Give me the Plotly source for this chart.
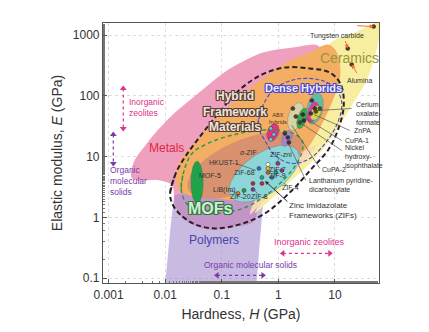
import numpy as np
import plotly.graph_objects as go

FONT = "Liberation Sans, Arial, sans-serif"

# ---------------- axis ticks ----------------
x_tickvals = [0.001, 0.01, 0.1, 1, 10]
x_ticktext = ["0.001", "0.01", "0.1", "1", "10"]
y_tickvals = [0.1, 1, 10, 100, 1000]
y_ticktext = ["0.1", "1", "10", "100", "1000"]

# ---------------- material regions (log10 H [GPa], log10 E [GPa]) ----------------
metals_logH = [-2.582, -2.564, -2.353, -2.088, -1.806, -1.506, -1.206, -0.907, -0.624, -0.325, -0.024, 0.257,
               0.469, 0.646, 0.734, 0.646, 0.205, -0.325, -0.677, -0.501, -0.413, -0.854, -1.259, -1.647,
               -1.824, -1.877, -2.088]
metals_logE = [0.641, 0.888, 1.184, 1.480, 1.743, 1.974, 2.204, 2.418, 2.566, 2.697, 2.763, 2.796,
               2.829, 2.845, 2.796, 2.582, 2.253, 1.760, 1.266, 0.609, -0.049, -0.164, -0.197, -0.049,
               0.197, 0.526, 0.609]

polymers_logH = [-2.01, -0.395, -0.325, -0.272, -0.219, -0.677, -1.383, -1.841, -1.912]
polymers_logE = [-1.2, -1.2, -0.378, 0.197, 0.576, 0.641, 0.477, 0.362, -0.214]

ceramics_logH = [1.810, 1.774, 1.686, 1.545, 1.298, 1.051, 0.769, 0.469, 0.205, -0.060, -0.289, -0.413,
                 -0.148, 0.205, 0.557, 0.769, 0.910, 1.351]
ceramics_logE = [3.207, 2.911, 2.582, 2.220, 1.842, 1.464, 1.102, 0.806, 0.592, 0.362, 0.164, 0.082,
                 0.444, 1.102, 1.924, 2.582, 2.862, 3.043]

hfm_logH = [-1.771, -1.771, -1.630, -1.506, -1.206, -0.907, -0.589, -0.325, -0.060, 0.205, 0.557, 0.875,
            1.016, 1.086, 1.086, 0.963, 0.804, 0.610, 0.381, 0.116, -0.148, -0.413, -0.765, -1.206, -1.559]
hfm_logE = [0.477, 0.855, 1.069, 1.184, 1.513, 1.793, 2.056, 2.253, 2.418, 2.582, 2.714, 2.845,
            2.747, 2.549, 2.253, 1.924, 1.595, 1.266, 0.970, 0.740, 0.477, 0.313, 0.280, 0.329, 0.362]

peach_logH = [0.663, 0.381, 0.116, -0.148, -0.395, -0.501, -0.413, -0.148, 0.205, 0.469]
peach_logE = [1.184, 0.839, 0.609, 0.378, 0.148, 0.049, 0.280, 0.510, 0.855, 1.102]

# dashed family outlines
hfm_outline_logH = [-1.912, -1.806, -1.630, -1.383, -1.118, -0.677, -0.289, 0.116, 0.557, 0.910, 1.104, 1.157,
                    1.051, 0.875, 0.593, 0.240, -0.236, -0.677, -1.118, -1.471, -1.735, -1.877]
hfm_outline_logE = [0.411, 0.740, 1.020, 1.332, 1.645, 2.105, 2.352, 2.467, 2.451, 2.385, 2.188, 1.842,
                    1.431, 1.102, 0.806, 0.444, 0.066, -0.115, -0.181, -0.115, 0.049, 0.230]

mof_outline_logH = [-1.718, -1.665, -1.524, -1.206, -0.765, -0.325, 0.028, 0.310, 0.434, 0.416, 0.293, 0.028,
                    -0.289, -0.677, -1.118, -1.471, -1.647]
mof_outline_logE = [0.477, 0.773, 1.053, 1.234, 1.365, 1.431, 1.431, 1.365, 1.234, 1.069, 0.839, 0.559,
                    0.313, 0.132, 0.066, 0.115, 0.263]

dense_outline_logH = [-0.360, -0.272, -0.060, 0.293, 0.698, 0.998, 1.122, 1.051, 0.840, 0.557, 0.240, -0.060, -0.236]
dense_outline_logE = [1.513, 1.842, 2.122, 2.270, 2.270, 2.138, 1.891, 1.563, 1.234, 0.970, 0.888, 1.020, 1.266]

# ellipse families: name, centre logH, centre logE, semi-axis a, semi-axis b, tilt (deg), colour
families = [
    ("MOF interior", -0.59, 0.86, 1.08, 0.42, 21, "#D8926F"),
    ("ZIFs", -0.25, 0.72, 0.70, 0.34, 32, "#8CD6D8"),
    ("MOF-5", -1.436, 0.576, 0.35, 0.11, 90, "#21A24A"),
    ("ABX", -0.095, 1.40, 0.15, 0.10, 65, "#E2347F"),
    ("Purple", 0.152, 1.30, 0.14, 0.08, 65, "#A487C8"),
    ("Tan", 0.31, 1.66, 0.24, 0.13, 70, "#D8D3A2"),
    ("Green", 0.42, 1.63, 0.18, 0.08, 70, "#36AA48"),
    ("Teal", 0.646, 1.79, 0.26, 0.14, 75, "#62BDA8"),
    ("Pink", 0.61, 1.73, 0.18, 0.09, 70, "#E03C9E"),
    ("Yellow", 0.66, 1.72, 0.13, 0.085, 60, "#DCD24A"),
]

# individual compounds (log10 H, log10 E, colour)
dot_logH = [-0.342, -0.007, -0.183, -0.183, -0.183, -0.042, -0.113, -0.289, -0.448, -0.289, 0.063, -0.448,
            -0.713, -0.607,
            -0.131, -0.078, -0.131, 0.116, 0.169, 0.187, 0.257, 0.310, 0.381, 0.434, 0.452, 0.593, 0.646,
            0.575, 0.663, 0.734,
            1.686, 1.228, 1.298]
dot_logE = [0.806, 0.888, 0.872, 0.806, 0.740, 0.740, 0.658, 0.658, 0.559, 0.559, 0.773, 0.461,
            0.395, 0.444,
            1.464, 1.365, 1.283, 1.382, 1.316, 1.234, 1.793, 1.661, 1.563, 1.694, 1.595, 1.924, 1.793,
            1.711, 1.743, 1.793,
            3.141, 2.780, 2.516]
dot_color = ["#3C64C8", "#A82A8C", "#FFFFFF", "#E8C020", "#E05020", "#2A9AA8", "#2A7AB8", "#2A9AA8", "#D02030",
             "#D02030", "#A82A8C", "#7A3A9A", "#E07820", "#2A9A48",
             "#5CC8E0", "#5CC8E0", "#5CC8E0", "#403040", "#403040", "#403040", "#504040", "#504040", "#504040",
             "#303030", "#303030", "#403040", "#403040", "#403040", "#505020", "#505020",
             "#5A3028", "#5A3028", "#5A3028"]

# leader lines (start, end) in log units
leader_logH = [(-0.748, -0.395), (1.298, 0.698), (1.263, 0.628), (1.122, 0.487), (1.122, 0.381),
               (0.734, 0.240), (0.487, 0.152), (-0.85, -0.72), (-0.62, -0.607), (-0.36, -0.43), (0.17, 0.10),
               (-0.05, -0.02), (0.03, -0.04), (-0.06, -0.11)]
leader_logE = [(0.888, 0.773), (1.793, 1.760), (1.431, 1.694), (1.266, 1.628), (1.102, 1.563),
               (0.806, 1.513), (0.609, 1.266), (0.44, 0.40), (0.38, 0.44), (0.38, 0.46), (0.52, 0.56),
               (0.79, 0.74), (0.99, 0.89), (0.70, 0.66)]

fig = go.Figure()


def region(lh, le, color, spline=True, opacity=1.0):
    lh = list(lh) + [lh[0]]
    le = list(le) + [le[0]]
    fig.add_trace(go.Scatter(x=10 ** np.array(lh), y=10 ** np.array(le), mode="lines", fill="toself",
                             fillcolor=color, opacity=opacity,
                             line=dict(width=0, shape="spline" if spline else "linear", color=color),
                             hoverinfo="skip"))


def outline(lh, le, color, width, dash):
    lh = list(lh) + [lh[0], lh[1]]
    le = list(le) + [le[0], le[1]]
    fig.add_trace(go.Scatter(x=10 ** np.array(lh), y=10 ** np.array(le), mode="lines",
                             line=dict(width=width, color=color, dash=dash, shape="spline"),
                             hoverinfo="skip"))


def ellipse_pts(cx, cy, a, b, ang, n=90):
    t = np.linspace(0, 2 * np.pi, n)
    th = np.radians(ang)
    x = cx + a * np.cos(t) * np.cos(th) - b * np.sin(t) * np.sin(th)
    y = cy + a * np.cos(t) * np.sin(th) + b * np.sin(t) * np.cos(th)
    return x, y


region(metals_logH, metals_logE, "#EFA0BE")
region(polymers_logH, polymers_logE, "rgba(165,140,207,0.6)", spline=False)
region(ceramics_logH, ceramics_logE, "#F8EEA0")
region(hfm_logH, hfm_logE, "#F3AE64")
region(peach_logH, peach_logE, "#F9D8B8")

for name, cx, cy, a, b, ang, col in families:
    ex, ey = ellipse_pts(cx, cy, a, b, ang)
    lw = 0 if name == "MOF interior" else 0.6
    fig.add_trace(go.Scatter(x=10 ** ex, y=10 ** ey, mode="lines", fill="toself", fillcolor=col,
                             line=dict(width=lw, color="rgba(90,90,90,0.5)"), hoverinfo="skip"))

outline(hfm_outline_logH, hfm_outline_logE, "#2A2020", 2.0, "5px,3px")
outline(mof_outline_logH, mof_outline_logE, "#2E9A48", 1.5, "4px,3px")
outline(dense_outline_logH, dense_outline_logE, "#4848C8", 1.1, "4px,2px")

# leader lines
lx, ly = [], []
for (h0, h1), (e0, e1) in zip(leader_logH, leader_logE):
    lx += [10 ** h0, 10 ** h1, None]
    ly += [10 ** e0, 10 ** e1, None]
fig.add_trace(go.Scatter(x=lx, y=ly, mode="lines", line=dict(color="#555555", width=0.7), hoverinfo="skip"))

# dots
fig.add_trace(go.Scatter(x=10 ** np.array(dot_logH), y=10 ** np.array(dot_logE), mode="markers",
                         marker=dict(size=4, color=dot_color, line=dict(width=0.5, color="#333333")),
                         hoverinfo="skip"))

# dotted double arrows (range indicators)
arrows = [
    # (logH0, logE0, logH1, logE1, colour, vertical)
    (-2.741, 2.122, -2.741, 1.464, "#E0308A", True),
    (-2.917, 1.365, -2.917, 0.888, "#7A3AA8", True),
    (0.081, -0.592, 0.910, -0.592, "#E0308A", False),
    (-1.083, -0.954, -0.272, -0.954, "#7A3AA8", False),
]
for h0, e0, h1, e1, col, vert in arrows:
    fig.add_trace(go.Scatter(x=[10 ** h0, 10 ** h1], y=[10 ** e0, 10 ** e1], mode="lines+markers",
                             line=dict(color=col, width=1.2, dash="dot"),
                             marker=dict(size=6, color=col,
                                         symbol=["triangle-up", "triangle-down"] if vert else
                                         ["triangle-left", "triangle-right"]),
                             hoverinfo="skip"))


def outline_shadow(c):
    offs = [(-1, -1), (1, -1), (-1, 1), (1, 1), (0, 1), (1, 0), (-1, 0), (0, -1)]
    return ", ".join(f"{dx}px {dy}px 0px {c}" for dx, dy in offs)


annotations = []


def label(text, h, e, size=7, color="#333333", xanchor="center", bold=False, shadow=None):
    t = f"<b>{text}</b>" if bold else text
    f = dict(size=size, color=color, family=FONT)
    if shadow:
        f["shadow"] = shadow
    annotations.append(dict(x=h, y=e, xref="x", yref="y", text=t, showarrow=False, font=f,
                            xanchor=xanchor, yanchor="middle", align="left" if xanchor == "left" else "center"))


label("Inorganic<br>zeolites", -2.670, 1.809, 8.5, "#E0308A", "left")
label("Organic<br>molecular<br>solids", -3.005, 0.592, 8.5, "#7A3AA8", "left")
label("Metals", -1.982, 1.135, 12, "#E0283C")
label("Hybrid<br>Framework<br>Materials", -0.765, 1.743, 12, "#EDE6DE", bold=True, shadow=outline_shadow("#5A3C32"))
label("Dense Hybrids", 0.452, 2.122, 11, "#EEEEFF", bold=True, shadow=outline_shadow("#4646C8"))
label("ABX<br>hybrids", -0.007, 1.628, 5.5, "#4A3020")
label("Ceramics", 1.263, 2.632, 14, "#96963A")
label("Tungsten carbide", 1.034, 2.993, 7, "#333333")
label("Alumina", 1.439, 2.253, 7, "#333333")
label("Cerium<br>oxalate-<br>formate", 1.333, 1.711, 7, "#333333", "left")
label("ZnPA", 1.298, 1.431, 7, "#333333", "left")
label("CuPA-1", 1.139, 1.266, 7, "#333333", "left")
label("Nickel<br>hydroxy-<br>isophthalate", 1.139, 0.987, 7, "#333333", "left")
label("CuPA-2", 0.734, 0.789, 7, "#333333", "left")
label("Lanthanum pyridine-<br>dicarboxylate", 0.504, 0.526, 7, "#333333", "left")
label("Zinc Imidazolate<br>Frameworks (ZIFs)", 0.152, 0.115, 8, "#333333", "left")
label("MOF-5", -1.206, 0.691, 7, "#333333")
label("HKUST-1", -0.959, 0.905, 7, "#333333")
label("<i>α</i>-ZIF", -0.519, 1.069, 7, "#333333")
label("ZIF-zni", 0.046, 1.036, 7, "#333333")
label("ZIF-7", -0.007, 0.789, 7, "#333333")
label("ZIF-9", -0.007, 0.691, 7, "#333333")
label("ZIF-68", -0.589, 0.740, 7, "#333333")
label("ZIF-4", 0.222, 0.493, 7, "#333333")
label("LiB(Im)", -0.959, 0.444, 7, "#333333")
label("ZIF-20", -0.660, 0.345, 7, "#333333")
label("ZIF-8", -0.325, 0.345, 7, "#333333")
label("MOFs", -1.206, 0.148, 16, "#D2EED2", bold=True, shadow=outline_shadow("#2A7A3A"))
label("Polymers", -1.136, -0.378, 12, "#4646AA")
label("Inorganic zeolites", 0.557, -0.411, 9, "#E0308A")
label("Organic molecular solids", -0.483, -0.789, 8.5, "#7A3AA8")

# small pointer arrows
for h, e, ax, ay, col in [(1.686, 3.141, -18, -1, "#F07030"), (1.228, 2.780, -3, -9, "#F07030"),
                          (1.298, 2.516, 6, 10, "#F07030"), (-0.236, 0.60, 24, 22, "#333333")]:
    annotations.append(dict(x=h, y=e, xref="x", yref="y", ax=ax, ay=ay, text="", showarrow=True,
                            arrowhead=2, arrowsize=0.8, arrowwidth=1, arrowcolor=col))

fig.update_layout(
    width=429, height=332, margin=dict(l=103, r=50, t=23, b=49),
    paper_bgcolor="white", plot_bgcolor="white", showlegend=False,
    annotations=annotations,
    font=dict(family=FONT, color="#333333"),
    xaxis=dict(type="log", range=[-3.099, 1.78], tickvals=x_tickvals, ticktext=x_ticktext,
               ticks="inside", ticklen=4, tickcolor="#555555", showline=True, mirror=True,
               linecolor="#555555", linewidth=1.2, showgrid=True, gridcolor="#DDDDDD", griddash="dot",
               zeroline=False, tickfont=dict(size=12, color="#333333"),
               minor=dict(ticks="inside", ticklen=2, tickcolor="#777777", showgrid=False),
               title=dict(text="Hardness, <i>H</i> (GPa)", font=dict(size=14, color="#333333"), standoff=8)),
    yaxis=dict(type="log", range=[-1.08, 3.2], tickvals=y_tickvals, ticktext=y_ticktext,
               ticks="inside", ticklen=4, tickcolor="#555555", showline=True, mirror=True,
               linecolor="#555555", linewidth=1.2, showgrid=True, gridcolor="#DDDDDD", griddash="dot",
               zeroline=False, tickfont=dict(size=12, color="#333333"),
               minor=dict(ticks="inside", ticklen=2, tickcolor="#777777", showgrid=False),
               title=dict(text="Elastic modulus, <i>E</i> (GPa)", font=dict(size=14, color="#333333"),
                          standoff=6)),
)

fig.write_html("out.html")
